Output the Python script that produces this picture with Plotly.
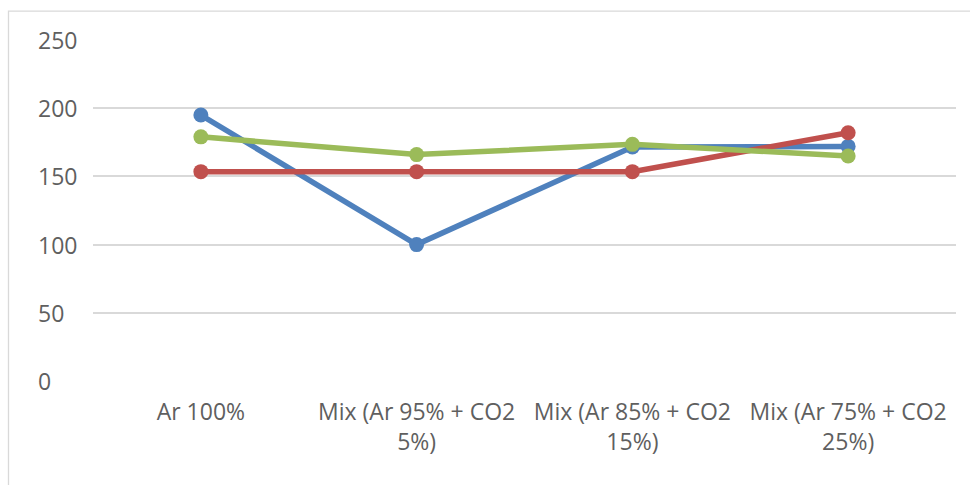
import plotly.graph_objects as go

# Shielding-gas compositions on the category axis
categories = [
    "Ar 100%",
    "Mix (Ar 95% + CO2<br>5%)",
    "Mix (Ar 85% + CO2<br>15%)",
    "Mix (Ar 75% + CO2<br>25%)",
]

# Measured values for the three series
series_blue = [195, 100, 171.5, 172]
series_red = [153.5, 153.5, 153.5, 182]
series_green = [179, 166, 173.5, 165]

y_ticks = [0, 50, 100, 150, 200, 250]

colors = {"blue": "#4F81BD", "red": "#C0504D", "green": "#9BBB59"}
text_color = "#5f5f5f"
grid_color = "#D9D9D9"
font_family = "Open Sans, Noto Sans, sans-serif"

W, H = 970, 485
L, R, T, B = 93, 14, 39.5, 103.5
plot_w = W - L - R
plot_h = H - T - B

fig = go.Figure()
for name, values in (("blue", series_blue), ("red", series_red), ("green", series_green)):
    fig.add_trace(go.Scatter(
        x=categories,
        y=values,
        mode="lines+markers",
        line=dict(color=colors[name], width=5.5),
        marker=dict(color=colors[name], size=15),
        showlegend=False,
        hoverinfo="x+y",
    ))

# Left-aligned value labels for the y axis
for v in y_ticks:
    fig.add_annotation(
        x=(36 - L) / plot_w, xref="paper", xanchor="left",
        y=v, yref="y", yanchor="middle",
        text=str(v), showarrow=False,
        font=dict(family=font_family, size=23, color=text_color),
    )

# Thin chart-area frame (top and left edges visible)
px = lambda p: (p - L) / plot_w
py = lambda p: (H - B - p) / plot_h
fig.add_shape(
    type="rect", xref="paper", yref="paper",
    x0=px(8.5), x1=px(W + 10), y0=py(H + 10), y1=py(10.5),
    line=dict(color=grid_color, width=1.3), fillcolor="rgba(0,0,0,0)",
    layer="below",
)

fig.update_layout(
    width=W, height=H,
    margin=dict(l=L, r=R, t=T, b=B, pad=0),
    paper_bgcolor="white",
    plot_bgcolor="white",
    font=dict(family=font_family, size=23, color=text_color),
    xaxis=dict(
        type="category",
        range=[-0.5, 3.5],
        showgrid=False,
        showline=False,
        zeroline=False,
        ticks="",
        tickfont=dict(family=font_family, size=23, color=text_color),
        ticklabelstandoff=15,
        fixedrange=True,
    ),
    yaxis=dict(
        range=[0, 250],
        tickvals=y_ticks,
        showticklabels=False,
        showgrid=True,
        gridcolor=grid_color,
        gridwidth=1.5,
        zeroline=False,
        showline=False,
        fixedrange=True,
    ),
)

fig.write_html("out.html")
